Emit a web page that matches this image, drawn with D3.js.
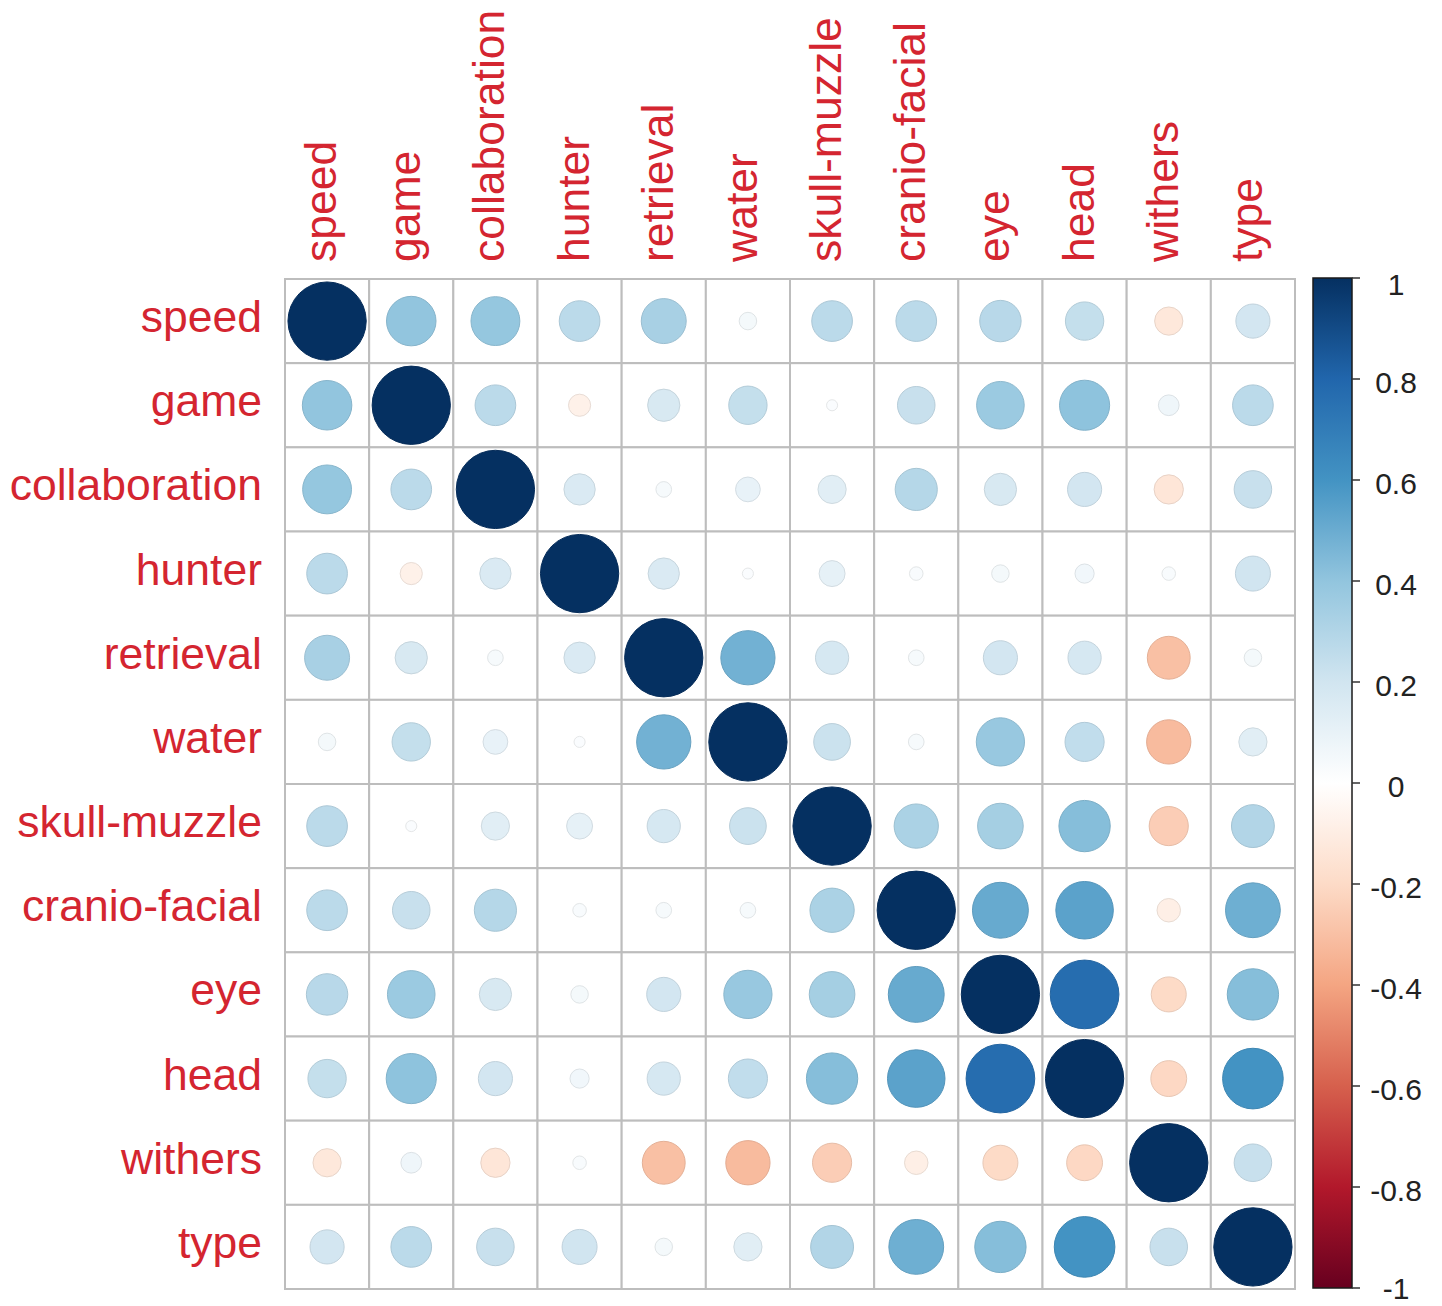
<!DOCTYPE html>
<html>
<head>
<meta charset="utf-8">
<script src="https://cdn.jsdelivr.net/npm/d3@7"></script>
<style>
  html, body { margin: 0; padding: 0; background: #fff; }
  svg { display: block; }
  text { font-family: "Liberation Sans", Arial, Helvetica, sans-serif; }
</style>
</head>
<body>
<svg id="chart" width="1442" height="1306"></svg>
<script>
// Variables in the correlation matrix (same order for rows and columns)
const variables = ["speed", "game", "collaboration", "hunter", "retrieval", "water",
  "skull-muzzle", "cranio-facial", "eye", "head", "withers", "type"];

// One row of correlation coefficients per variable
const speed        = [ 1.00,  0.40,  0.39,  0.27,  0.33,  0.05,  0.27,  0.27,  0.28,  0.24, -0.13,  0.19];
const game         = [ 0.40,  1.00,  0.27, -0.08,  0.17,  0.24,  0.02,  0.23,  0.37,  0.41,  0.07,  0.27];
const collaboration= [ 0.39,  0.27,  1.00,  0.16,  0.04,  0.10,  0.13,  0.29,  0.17,  0.19, -0.14,  0.23];
const hunter       = [ 0.27, -0.08,  0.16,  1.00,  0.16,  0.02,  0.11,  0.03,  0.05,  0.06,  0.03,  0.20];
const retrieval    = [ 0.33,  0.17,  0.04,  0.16,  1.00,  0.48,  0.18,  0.04,  0.19,  0.18, -0.30,  0.05];
const water        = [ 0.05,  0.24,  0.10,  0.02,  0.48,  1.00,  0.22,  0.04,  0.38,  0.25, -0.32,  0.13];
const skullMuzzle  = [ 0.27,  0.02,  0.13,  0.11,  0.18,  0.22,  1.00,  0.32,  0.34,  0.43, -0.25,  0.30];
const cranioFacial = [ 0.27,  0.23,  0.29,  0.03,  0.04,  0.04,  0.32,  1.00,  0.51,  0.54, -0.09,  0.49];
const eye          = [ 0.28,  0.37,  0.17,  0.05,  0.19,  0.38,  0.34,  0.51,  1.00,  0.77, -0.20,  0.43];
const head         = [ 0.24,  0.41,  0.19,  0.06,  0.18,  0.25,  0.43,  0.54,  0.77,  1.00, -0.21,  0.60];
const withers      = [-0.13,  0.07, -0.14,  0.03, -0.30, -0.32, -0.25, -0.09, -0.20, -0.21,  1.00,  0.23];
const type         = [ 0.19,  0.27,  0.23,  0.20,  0.05,  0.13,  0.30,  0.49,  0.43,  0.60,  0.23,  1.00];

const matrix = [speed, game, collaboration, hunter, retrieval, water,
  skullMuzzle, cranioFacial, eye, head, withers, type];

// Colour legend ticks
const legendTicks = [1, 0.8, 0.6, 0.4, 0.2, 0, -0.2, -0.4, -0.6, -0.8, -1];

// Diverging red-blue palette
const paletteStops = ["#67001F", "#B2182B", "#D6604D", "#F4A582", "#FDDBC7", "#FFFFFF",
  "#D1E5F0", "#92C5DE", "#4393C3", "#2166AC", "#053061"];

const svg = d3.select("#chart");

const x = d3.scaleBand().domain(variables).range([285, 1295]).padding(0);
const y = d3.scaleBand().domain(variables).range([279, 1289]).padding(0);
const cell = x.bandwidth();

const color = d3.scaleLinear()
  .domain(d3.range(paletteStops.length).map(i => -1 + i * 0.2))
  .range(paletteStops)
  .interpolate(d3.interpolateRgb)
  .clamp(true);

// circle area proportional to |r|
const radius = d3.scaleSqrt().domain([0, 1]).range([0, cell * 0.465]);

const cells = [];
matrix.forEach((row, i) => row.forEach((v, j) => {
  cells.push({ row: variables[i], col: variables[j], value: v });
}));

// cell backgrounds with grey grid
svg.append("g").selectAll("rect")
  .data(cells)
  .join("rect")
  .attr("x", d => x(d.col))
  .attr("y", d => y(d.row))
  .attr("width", cell)
  .attr("height", cell)
  .attr("fill", "#fff")
  .attr("stroke", "#bdbdbd")
  .attr("stroke-width", 2);

// circles
svg.append("g").selectAll("circle")
  .data(cells)
  .join("circle")
  .attr("cx", d => x(d.col) + cell / 2)
  .attr("cy", d => y(d.row) + cell / 2)
  .attr("r", d => radius(Math.abs(d.value)))
  .attr("fill", d => color(d.value))
  .attr("stroke", d => d3.color(color(d.value)).darker(0.25))
  .attr("stroke-width", 1);

const labelColor = "#d42530";

// row labels
svg.append("g").selectAll("text")
  .data(variables)
  .join("text")
  .attr("x", 262)
  .attr("y", d => y(d) + cell / 2 + 11)
  .attr("text-anchor", "end")
  .attr("font-size", 44.5)
  .attr("fill", labelColor)
  .text(d => d);

// column labels, rotated
svg.append("g").selectAll("text")
  .data(variables)
  .join("text")
  .attr("transform", d => `translate(${x(d) + cell / 2 + 9},262) rotate(-90)`)
  .attr("text-anchor", "start")
  .attr("font-size", 44.5)
  .attr("fill", labelColor)
  .text(d => d);

// colour legend
const legendX = 1313, legendW = 39;
const ly = d3.scaleLinear().domain([-1, 1]).range([1288, 278]);

const defs = svg.append("defs");
const grad = defs.append("linearGradient")
  .attr("id", "legend-grad")
  .attr("x1", 0).attr("y1", 1).attr("x2", 0).attr("y2", 0);
paletteStops.forEach((c, i) => {
  grad.append("stop")
    .attr("offset", `${(i / (paletteStops.length - 1)) * 100}%`)
    .attr("stop-color", c);
});

svg.append("rect")
  .attr("x", legendX)
  .attr("y", ly(1))
  .attr("width", legendW)
  .attr("height", ly(-1) - ly(1))
  .attr("fill", "url(#legend-grad)")
  .attr("stroke", "#1a1a1a")
  .attr("stroke-width", 1.5);

const legendAxis = svg.append("g");
legendAxis.selectAll("line")
  .data(legendTicks)
  .join("line")
  .attr("x1", legendX + legendW)
  .attr("x2", legendX + legendW + 8)
  .attr("y1", d => ly(d))
  .attr("y2", d => ly(d))
  .attr("stroke", "#333")
  .attr("stroke-width", 1.5);

legendAxis.selectAll("text")
  .data(legendTicks)
  .join("text")
  .attr("x", 1396)
  .attr("y", d => ly(d) + (d === 1 ? 6 : d === -1 ? 0 : 3))
  .attr("dominant-baseline", "central")
  .attr("text-anchor", "middle")
  .attr("font-size", 30)
  .attr("fill", "#222")
  .text(d => String(+d.toFixed(1)));
</script>
</body>
</html>
